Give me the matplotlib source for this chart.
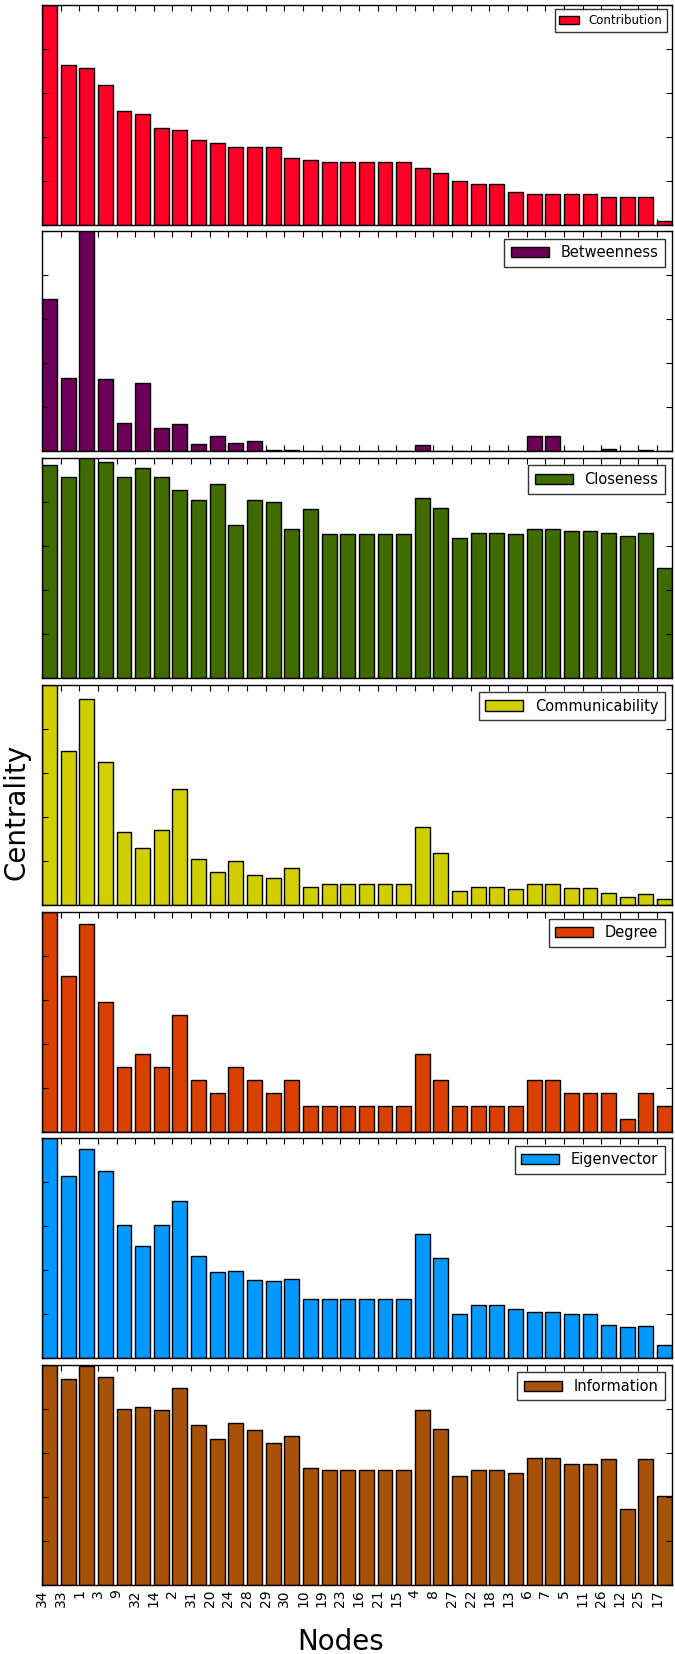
import numpy as np
import matplotlib
matplotlib.use("Agg")
import matplotlib.pyplot as plt

# node order on the x axis (same for every panel)
nodes = ['34', '33', '1', '3', '9', '32', '14', '2', '31', '20', '24', '28', '29',
         '30', '10', '19', '23', '16', '21', '15', '4', '8', '27', '22', '18', '13',
         '6', '7', '5', '11', '26', '12', '25', '17']

# centrality values (relative to the panel maximum)
contribution = [1.0, 0.725, 0.711, 0.635, 0.515, 0.502, 0.439, 0.430, 0.384, 0.371,
                0.354, 0.351, 0.351, 0.305, 0.295, 0.287, 0.287, 0.287, 0.287, 0.287,
                0.257, 0.233, 0.198, 0.185, 0.185, 0.150, 0.138, 0.138, 0.138, 0.138,
                0.125, 0.125, 0.125, 0.018]
betweenness = [0.694, 0.333, 1.0, 0.329, 0.130, 0.312, 0.108, 0.126, 0.032, 0.071,
               0.039, 0.048, 0.006, 0.006, 0.002, 0, 0, 0, 0, 0,
               0.027, 0, 0, 0, 0, 0, 0.070, 0.070, 0.001, 0.001,
               0.009, 0, 0.005, 0]
closeness = [0.970, 0.912, 1.0, 0.983, 0.912, 0.955, 0.912, 0.853, 0.809, 0.880,
             0.695, 0.809, 0.802, 0.677, 0.767, 0.653, 0.653, 0.653, 0.653, 0.653,
             0.817, 0.773, 0.639, 0.658, 0.658, 0.653, 0.677, 0.677, 0.667, 0.667,
             0.659, 0.645, 0.659, 0.502]
communicability = [1.0, 0.701, 0.937, 0.651, 0.329, 0.257, 0.341, 0.526, 0.208, 0.151,
                   0.199, 0.136, 0.121, 0.168, 0.080, 0.094, 0.094, 0.094, 0.094, 0.094,
                   0.352, 0.236, 0.062, 0.080, 0.080, 0.073, 0.094, 0.094, 0.076, 0.076,
                   0.054, 0.035, 0.048, 0.027]
degree = [17, 12, 16, 10, 5, 6, 5, 9, 4, 3, 5, 4, 3, 4, 2, 2, 2, 2, 2, 2,
          6, 4, 2, 2, 2, 2, 4, 4, 3, 3, 3, 1, 3, 2]
eigenvector = [1.0, 0.827, 0.951, 0.851, 0.608, 0.511, 0.605, 0.713, 0.467, 0.394,
               0.398, 0.354, 0.350, 0.360, 0.271, 0.271, 0.271, 0.271, 0.271, 0.271,
               0.564, 0.457, 0.202, 0.242, 0.242, 0.226, 0.211, 0.211, 0.202, 0.202,
               0.153, 0.141, 0.149, 0.061]
information = [1.0, 0.935, 0.994, 0.947, 0.798, 0.809, 0.795, 0.894, 0.727, 0.662,
               0.738, 0.703, 0.644, 0.676, 0.533, 0.523, 0.523, 0.523, 0.523, 0.523,
               0.794, 0.709, 0.497, 0.523, 0.523, 0.509, 0.577, 0.577, 0.552, 0.552,
               0.571, 0.344, 0.571, 0.403]

names = ["Contribution", "Betweenness", "Closeness", "Communicability",
         "Degree", "Eigenvector", "Information"]
series = [contribution, betweenness, closeness, communicability,
          degree, eigenvector, information]
colors = ["#ff0026", "#6b0058", "#3f6b00", "#d2cf00",
          "#d94000", "#0099ff", "#a65208"]

fig, axes = plt.subplots(7, 1, sharex=True, figsize=(6.75, 16.54), dpi=100)
fig.subplots_adjust(left=0.0622, right=0.9956, top=0.9972, bottom=0.0417,
                    hspace=0.0305)

x = np.arange(len(nodes))

for ax, name, vals, col in zip(axes, names, series, colors):
    vals = np.array(vals, dtype=float)
    vals = vals / vals.max()
    ax.bar(x, vals, width=0.8, align="edge", color=col,
           edgecolor="black", linewidth=1, label=name)
    ax.set_xlim(0, len(nodes) - 0.2)
    ax.set_ylim(0, 1)
    ax.set_yticks(np.arange(0, 1.01, 0.2))
    ax.set_yticklabels([])
    ax.tick_params(direction="in", top=True, right=True, length=4, width=0.8)
    for s in ax.spines.values():
        s.set_linewidth(1)
    if name == "Contribution":
        leg = ax.legend(loc="upper right", fontsize=8.5, handlelength=1.7,
                        fancybox=False, borderaxespad=0.4)
    else:
        leg = ax.legend(loc="upper right", fontsize=10.5, handlelength=2.6,
                        fancybox=False, borderaxespad=0.5, borderpad=0.45)
    leg.get_frame().set_edgecolor("black")
    leg.get_frame().set_linewidth(1)

axes[-1].set_xticks(x)
axes[-1].set_xticklabels(nodes, rotation=90, fontsize=10)
axes[-1].tick_params(axis="x", pad=3)

fig.text(0.505, 0.0075, "Nodes", fontsize=20, ha="center", va="center")
fig.text(0.024, 0.509, "Centrality", fontsize=20, rotation=90,
         ha="center", va="center")

plt.savefig("out.png", dpi=100)
